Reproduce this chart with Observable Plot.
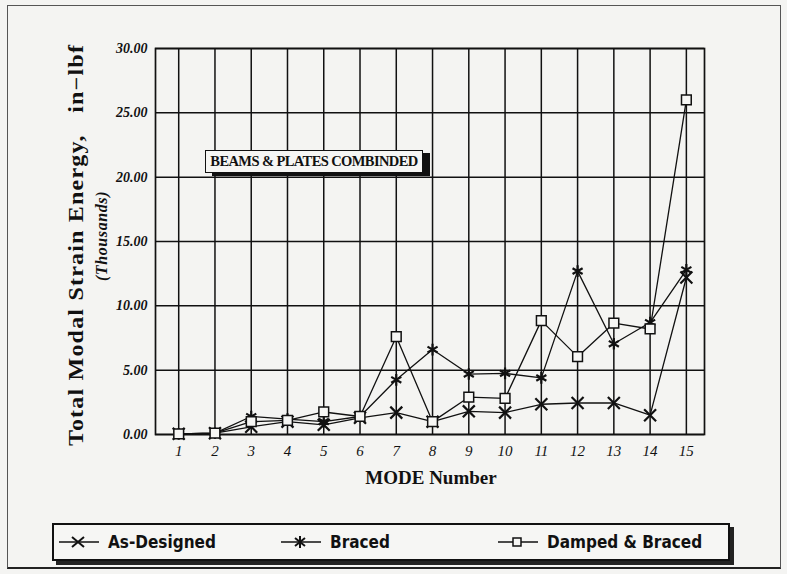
<!DOCTYPE html>
<html>
<head>
<meta charset="utf-8">
<script src="https://cdn.jsdelivr.net/npm/d3@7"></script>
<script src="https://cdn.jsdelivr.net/npm/@observablehq/plot@0.6"></script>
<style>
  html, body { margin: 0; padding: 0; background: #f4f4f2; }
  #wrap { position: relative; width: 787px; height: 574px; overflow: hidden; }
  #chart { position: absolute; left: 0; top: 0; }
  .outer { position: absolute; left: 7px; top: 5px; width: 772px; height: 561px; border: 1.5px solid #555; border-bottom: 2.5px solid #222; }
  .ytitle { position: absolute; left: 76px; top: 245px; transform: translate(-50%, -50%) rotate(-90deg) scaleX(1.2);
            font: bold 20px "Liberation Serif", serif; letter-spacing: 1px; white-space: pre; color: #111; }
  .ysub { position: absolute; left: 102px; top: 236px; transform: translate(-50%, -50%) rotate(-90deg);
          font: italic bold 16px "Liberation Serif", serif; white-space: pre; color: #111; letter-spacing: 0.6px; }
  .xtitle { position: absolute; left: 431px; top: 478px; transform: translate(-50%, -50%);
            font: bold 19px "Liberation Serif", serif; color: #111; white-space: pre; }
  .note { position: absolute; left: 205px; top: 150px; width: 216px; height: 21px; border: 1.5px solid #111;
          background: #f6f6f4; box-shadow: 7px 3px 0 #111; font: bold 14.5px "Liberation Serif", serif;
          line-height: 21px; text-align: center; letter-spacing: -0.6px; color: #111; white-space: pre; }
  .legend { position: absolute; left: 52px; top: 523px; width: 674px; height: 34px; border: 2px solid #111;
            background: #f6f6f4; box-shadow: 4px 4px 0 #222; }
  .item { position: absolute; top: 0; height: 34px; display: flex; align-items: center;
          font: bold 17px "Liberation Sans Narrow", "DejaVu Sans Condensed", sans-serif; color: #111; white-space: pre; }
  .item svg { margin-right: 8px; }
</style>
</head>
<body>
<div id="wrap">
  <div class="outer"></div>
  <div id="chart"></div>
</div>
<script>
const modes = [1, 2, 3, 4, 5, 6, 7, 8, 9, 10, 11, 12, 13, 14, 15];
const yTicks = [0, 5, 10, 15, 20, 25, 30];
const seriesNames = ["As-Designed", "Braced", "Damped & Braced"];
const asDesigned = [0.05, 0.1, 0.6, 1.0, 0.75, 1.3, 1.7, 1.0, 1.8, 1.7, 2.35, 2.45, 2.45, 1.5, 12.2];
const braced     = [0.05, 0.1, 1.4, 1.2, 1.0, 1.4, 4.25, 6.6, 4.7, 4.75, 4.4, 12.7, 7.05, 8.7, 12.8];
const damped     = [0.05, 0.1, 1.0, 1.1, 1.75, 1.4, 7.6, 1.0, 2.9, 2.8, 8.85, 6.05, 8.65, 8.2, 26.0];
const titleText = "BEAMS & PLATES COMBINDED";
const yTitle = "Total Modal Strain Energy,   in\u2212lbf";
const ySub = "(Thousands)";
const xTitle = "MODE Number";

const symbolOf = {"As-Designed": "times", "Braced": "asterisk", "Damped & Braced": "square"};
const values = [asDesigned, braced, damped];
const data = [];
seriesNames.forEach((s, i) => modes.forEach((m, j) => data.push({series: s, mode: m, value: values[i][j]})));

const ink = "#111";
const chart = Plot.plot({
  width: 787, height: 574,
  marginLeft: 155, marginRight: 83, marginTop: 48, marginBottom: 140,
  style: {background: "transparent", color: ink},
  x: {domain: [0.36, 15.5]},
  y: {domain: [0, 30]},
  marks: [
    Plot.gridX(modes, {stroke: ink, strokeOpacity: 1, strokeWidth: 1.5}),
    Plot.gridY(yTicks, {stroke: ink, strokeOpacity: 1, strokeWidth: 1.5}),
    Plot.frame({stroke: ink, strokeWidth: 1.7}),
    Plot.axisY(yTicks, {tickFormat: d3.format(".2f"), tickSize: 5, tickPadding: 3, label: null,
      fontSize: 14, fontStyle: "italic", fontWeight: "bold", fontFamily: "Liberation Serif", stroke: null, fill: ink}),
    Plot.axisX(modes, {tickSize: 0, tickPadding: 11, label: null,
      fontSize: 15, fontStyle: "italic", fontFamily: "Liberation Serif", fill: ink}),
    Plot.line(data, {x: "mode", y: "value", z: "series", stroke: ink, strokeWidth: 1.3}),
    Plot.dot(data.filter(d => d.series !== "Damped & Braced"), {x: "mode", y: "value", symbol: d => symbolOf[d.series], r: 5.5, stroke: ink, strokeWidth: 2.2}),
    Plot.dot(data.filter(d => d.series === "Damped & Braced"), {x: "mode", y: "value", symbol: "square", r: 5.5, stroke: ink, fill: "#f6f6f4", strokeWidth: 1.5})
  ]
});
document.getElementById("chart").appendChild(chart);

const wrap = document.getElementById("wrap");
function addDiv(cls, text) { const d = document.createElement("div"); d.className = cls; d.textContent = text; wrap.appendChild(d); return d; }
addDiv("ytitle", yTitle);
addDiv("ysub", ySub);
addDiv("xtitle", xTitle);
addDiv("note", titleText);

const legend = addDiv("legend", "");
const legendX = [4, 226, 443];
seriesNames.forEach((s, i) => {
  const it = document.createElement("div");
  it.className = "item";
  it.style.left = legendX[i] + "px";
  const sym = symbolOf[s];
  let glyph = "";
  if (sym === "times") glyph = `<path d="M14,4 L26,14 M26,4 L14,14" stroke="${ink}" stroke-width="2"/>`;
  if (sym === "asterisk") glyph = `<path d="M20,3 L20,15 M15,5 L25,13 M25,5 L15,13" stroke="${ink}" stroke-width="2"/>`;
  if (sym === "square") glyph = `<rect x="16" y="5" width="8" height="8" fill="#f6f6f4" stroke="${ink}" stroke-width="1.5"/>`;
  it.innerHTML = `<svg width="42" height="18"><line x1="1" y1="9" x2="41" y2="9" stroke="${ink}" stroke-width="1.5"/>${glyph}</svg><span></span>`;
  it.querySelector("span").textContent = s;
  legend.appendChild(it);
});
</script>
</body>
</html>
